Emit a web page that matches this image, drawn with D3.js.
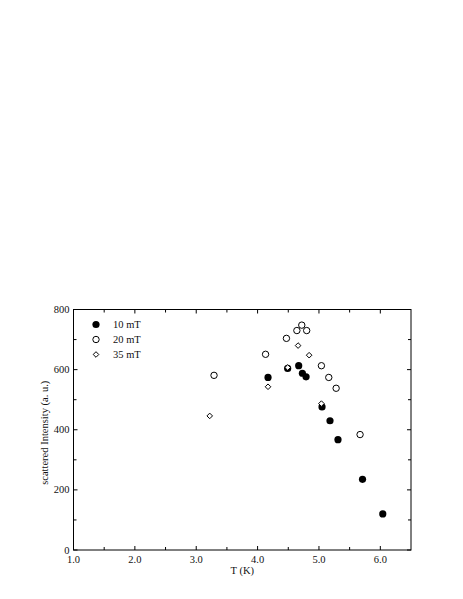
<!DOCTYPE html>
<html>
<head>
<meta charset="utf-8">
<script src="https://cdn.jsdelivr.net/npm/d3@7"></script>
<style>
  html, body { margin: 0; padding: 0; background: #fff; }
  svg text { font-family: "Liberation Serif", "DejaVu Serif", serif; fill: #111; }
</style>
</head>
<body>
<div id="chart"></div>
<script>
// 数据：温度 T (K) 与散射强度 (a. u.)
const T10 = [4.17, 4.49, 4.67, 4.73, 4.79, 5.05, 5.18, 5.31, 5.71, 6.04];
const I10 = [574, 604, 613, 588, 576, 476, 430, 367, 235, 120];
const T20 = [3.29, 4.13, 4.47, 4.64, 4.72, 4.80, 5.04, 5.16, 5.28, 5.67];
const I20 = [581, 651, 704, 730, 748, 730, 613, 574, 538, 384];
const T35 = [3.22, 4.17, 4.49, 4.66, 4.84, 5.04];
const I35 = [446, 543, 607, 680, 648, 487];
const legendLabels = ["10 mT", "20 mT", "35 mT"];
const xTicks = [1, 2, 3, 4, 5, 6];
const yTicks = [0, 200, 400, 600, 800];

const W = 463, H = 599;
const m = { left: 73.5, right: 52, top: 309.5, bottom: 49 };
const w = W - m.left - m.right, h = H - m.top - m.bottom;

const svg = d3.select("#chart").append("svg").attr("width", W).attr("height", H);
const g = svg.append("g").attr("transform", `translate(${m.left},${m.top})`);

const x = d3.scaleLinear().domain([1, 6.5]).range([0, w]);
const y = d3.scaleLinear().domain([0, 800]).range([h, 0]);

// 框线
g.append("rect").attr("width", w).attr("height", h)
  .attr("fill", "none").attr("stroke", "#000").attr("stroke-width", 1);

// 刻度（朝内），主刻度 + 次刻度
const xMinor = d3.range(1.5, 6.5, 1);
const yMinor = d3.range(100, 800, 200);
function ticksX(vals, len) {
  vals.forEach((v) => {
    g.append("line").attr("x1", x(v)).attr("x2", x(v)).attr("y1", h).attr("y2", h - len).attr("stroke", "#000");
    g.append("line").attr("x1", x(v)).attr("x2", x(v)).attr("y1", 0).attr("y2", len).attr("stroke", "#000");
  });
}
function ticksY(vals, len) {
  vals.forEach((v) => {
    g.append("line").attr("y1", y(v)).attr("y2", y(v)).attr("x1", 0).attr("x2", len).attr("stroke", "#000");
    g.append("line").attr("y1", y(v)).attr("y2", y(v)).attr("x1", w).attr("x2", w - len).attr("stroke", "#000");
  });
}
ticksX(xTicks, 4); ticksX(xMinor, 3);
ticksY(yTicks, 4); ticksY(yMinor, 3);

g.selectAll("text.xl").data(xTicks).join("text").attr("class", "xl")
  .attr("x", (d) => x(d)).attr("y", h + 12.5).attr("text-anchor", "middle")
  .style("font-size", "10.5px").text((d) => d.toFixed(1));
g.selectAll("text.yl").data(yTicks).join("text").attr("class", "yl")
  .attr("x", -4).attr("y", (d) => y(d) + 3.5).attr("text-anchor", "end")
  .style("font-size", "10.5px").text((d) => d);

g.append("text").attr("x", w / 2).attr("y", h + 24).attr("text-anchor", "middle")
  .style("font-size", "10.5px").text("T (K)");
g.append("text").attr("transform", `translate(-26,${h / 2 + 3}) rotate(-90)`)
  .attr("text-anchor", "middle").style("font-size", "10.5px").text("scattered Intensity (a. u.)");

// 数据点（菱形画在最上层）
const diamond = (s) => `M0,${-s}L${s},0L0,${s}L${-s},0Z`;
g.selectAll("circle.c20").data(T20.map((t, i) => [t, I20[i]])).join("circle").attr("class", "c20")
  .attr("cx", (d) => x(d[0])).attr("cy", (d) => y(d[1])).attr("r", 3.2)
  .attr("fill", "none").attr("stroke", "#000").attr("stroke-width", 1);
g.selectAll("circle.c10").data(T10.map((t, i) => [t, I10[i]])).join("circle").attr("class", "c10")
  .attr("cx", (d) => x(d[0])).attr("cy", (d) => y(d[1])).attr("r", 3.6).attr("fill", "#000");
g.selectAll("path.d35").data(T35.map((t, i) => [t, I35[i]])).join("path").attr("class", "d35")
  .attr("transform", (d) => `translate(${x(d[0])},${y(d[1])})`).attr("d", diamond(2.8))
  .attr("fill", "#fff").attr("stroke", "#000").attr("stroke-width", 1);

// 图例
const lg = g.append("g").attr("transform", "translate(22.5,15)");
legendLabels.forEach((l, i) => {
  const gg = lg.append("g").attr("transform", `translate(0,${i * 15})`);
  if (i === 0) gg.append("circle").attr("r", 3.6).attr("fill", "#000");
  else if (i === 1) gg.append("circle").attr("r", 3.2).attr("fill", "none").attr("stroke", "#000");
  else gg.append("path").attr("d", diamond(2.8)).attr("fill", "#fff").attr("stroke", "#000");
  gg.append("text").attr("x", 17).attr("y", 3.5).style("font-size", "10.5px").text(l);
});
</script>
</body>
</html>
